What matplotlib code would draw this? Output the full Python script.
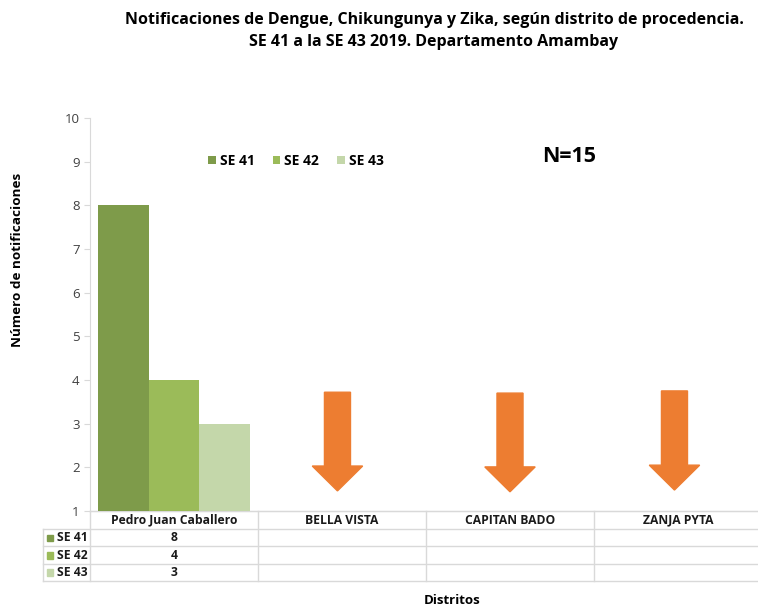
import matplotlib.pyplot as plt
from matplotlib.patches import Rectangle

plt.rcParams['font.family'] = ['Open Sans', 'DejaVu Sans']

# data
districts = ['Pedro Juan Caballero', 'BELLA VISTA', 'CAPITAN BADO', 'ZANJA PYTA']
series = ['SE 41', 'SE 42', 'SE 43']
values = {
    'SE 41': [8, None, None, None],
    'SE 42': [4, None, None, None],
    'SE 43': [3, None, None, None],
}
colors = ['#7E9B4A', '#9BBB59', '#C4D7AA']
arrow_x = [0.973, 2.0, 2.979]
arrow_top = [3.72, 3.70, 3.75]
arrow_tip = [1.46, 1.44, 1.48]
total_n = 15

fig = plt.figure(figsize=(7.58, 6.05), dpi=100)
ax = fig.add_axes([90 / 758, 1 - 511 / 605, 672 / 758, 393 / 605])

bar_w = 0.30
for k, s in enumerate(series):
    xs = [i + (k - 1) * bar_w for i, v in enumerate(values[s]) if v is not None]
    ys = [v - 1 for v in values[s] if v is not None]
    ax.bar(xs, ys, width=bar_w, bottom=1, color=colors[k], label=s, zorder=3)

# orange arrows for districts without cases
for x, top, tip in zip(arrow_x, arrow_top, arrow_tip):
    ax.arrow(x, top, 0, tip - top, width=0.155, head_width=0.30, head_length=0.57,
             length_includes_head=True, color='#ED7D31', zorder=3)

ax.set_xlim(-0.5, 3.5)
ax.set_ylim(1, 10)
ax.set_yticks(range(1, 11))
ax.set_xticks([])
ax.tick_params(axis='y', colors='#D9D9D9', labelcolor='#404040', labelsize=9.5, length=4)
for sp in ['top', 'right']:
    ax.spines[sp].set_visible(False)
ax.spines['left'].set_color('#D9D9D9')
ax.spines['bottom'].set_color('#D9D9D9')

# data table below the axis
tr = ax.get_xaxis_transform()
grid_c = '#D9D9D9'
rows_y = [0, -0.0466, -0.0903, -0.1349, -0.178]
label_left = -0.78
for y in rows_y:
    x0 = -0.5 if y == 0 else label_left
    ax.plot([x0, 3.5], [y, y], color=grid_c, lw=1, transform=tr, clip_on=False)
ax.plot([label_left, label_left], [rows_y[1], rows_y[-1]], color=grid_c, lw=1,
        transform=tr, clip_on=False)
for xb in [-0.5, 0.5, 1.5, 2.5, 3.5]:
    ax.plot([xb, xb], [0, rows_y[-1]], color=grid_c, lw=1, transform=tr, clip_on=False)

for i, d in enumerate(districts):
    ax.text(i, (rows_y[0] + rows_y[1]) / 2, d, transform=tr, ha='center', va='center',
            fontsize=8.7, fontweight='bold', color='#1A1A1A')
for k, s in enumerate(series):
    yc = (rows_y[k + 1] + rows_y[k + 2]) / 2
    ax.add_patch(Rectangle((-0.758, yc - 0.0085), 0.037, 0.017, color=colors[k],
                           transform=tr, clip_on=False))
    ax.text(-0.515, yc, s, transform=tr, ha='right', va='center',
            fontsize=8.7, fontweight='bold', color='#1A1A1A')
    for i, v in enumerate(values[s]):
        if v is not None:
            ax.text(i, yc, str(v), transform=tr, ha='center', va='center',
                    fontsize=8.7, fontweight='bold', color='#1A1A1A')

ax.legend(loc='center', bbox_to_anchor=(296 / 758, 1 - 161 / 605),
          bbox_transform=fig.transFigure, ncol=3, frameon=False,
          handlelength=0.55, handleheight=0.55, handletextpad=0.3, columnspacing=1.3,
          prop={'weight': 'bold', 'size': 10})

fig.text(569 / 758, 1 - 156 / 605, f'N={total_n}', ha='center', va='center',
         fontsize=15.5, fontweight='bold', color='#000000')

fig.text(434 / 758, 1 - 20 / 605,
         'Notificaciones de Dengue, Chikungunya y Zika, según distrito de procedencia.',
         ha='center', va='center', fontsize=11.5, fontweight='bold', color='#000000')
fig.text(434 / 758, 1 - 42 / 605, 'SE 41 a la SE 43 2019. Departamento Amambay',
         ha='center', va='center', fontsize=11.5, fontweight='bold', color='#000000')
fig.text(18 / 758, 1 - 260 / 605, 'Número de notificaciones', rotation=90,
         ha='center', va='center', fontsize=9.7, fontweight='bold', color='#000000')
fig.text(452 / 758, 1 - 600 / 605, 'Distritos', ha='center', va='center',
         fontsize=9.5, fontweight='bold', color='#000000')

fig.savefig('out.png', dpi=100)
